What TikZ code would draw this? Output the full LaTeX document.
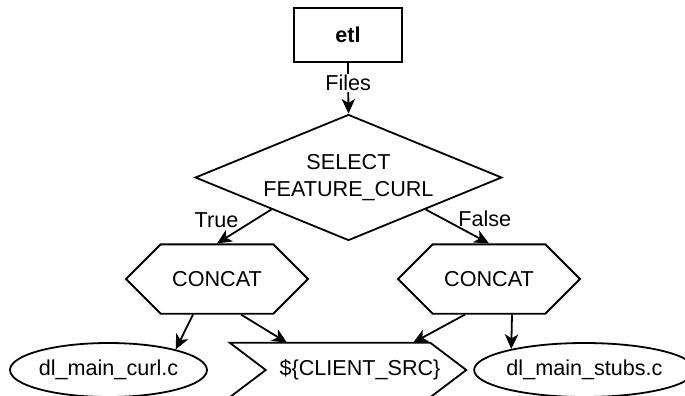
\documentclass[tikz,border=0pt]{standalone}
\usepackage{fontspec}
\setmainfont{Liberation Sans}
\usetikzlibrary{arrows.meta,calc,positioning,shapes.geometric,shapes.misc}

\begin{document}
\begin{tikzpicture}[x=0.75pt, y=-0.75pt, font=\fontsize{16.2}{20.2}\selectfont,
  unit/.style={rectangle, draw, line width=1.35pt, minimum width=81pt, minimum height=40.5pt, inner sep=0pt, font=\fontsize{16.2}{20.2}\selectfont\bfseries},
  choice/.style={diamond, draw, line width=1.35pt, shape aspect=2.43, minimum width=230pt, minimum height=94.5pt, inner sep=0pt, align=center},
  concatbox/.style={chamfered rectangle, chamfered rectangle xsep=27.75pt, chamfered rectangle ysep=20.25pt, draw, line width=1.35pt, minimum width=136.5pt, minimum height=40.5pt, inner sep=0pt},
  srcfile/.style={ellipse, draw, line width=1.35pt, minimum width=144.75pt, minimum height=40.5pt, inner sep=0pt},
  varbox/.style={rectangle, minimum width=177pt, minimum height=40.5pt, inner sep=0pt},
  flow/.style={-{Stealth[length=11pt, width=10pt, inset=3pt]}, line width=1.35pt},
  tag/.style={fill=white, inner sep=1pt},
  branch/.style={inner sep=0pt}]

\useasboundingbox (0,0) rectangle (685,396);

%Nodes
\node[unit]      (etl)   at (348,35)      {etl};
\node[choice]    (sel)   at (348.5,177.5) {SELECT\\FEATURE\_CURL};
\node[concatbox] (ccL)   at (217,279)     {CONCAT};
\node[concatbox] (ccR)   at (489,279)     {CONCAT};
\node[srcfile]   (curl)  at (108.5,370)   {dl\_main\_curl.c};
\node[varbox]    (src)   at (348,370)     {\hspace*{18pt}\$\{CLIENT\_SRC\}};
\node[srcfile]   (stubs) at (584.5,370)   {dl\_main\_stubs.c};
\draw[line width=1.35pt] (src.north west) -- ([xshift=-27pt]src.north east) -- (src.east)
  -- ([xshift=-27pt]src.south east) -- (src.south west) -- ([xshift=27pt]src.west) -- cycle;

%Lines
\draw[flow] (etl.south) -- node[tag, pos=0.4] {Files} (sel.north);

\draw[flow] (sel.south west) -- node[branch, pos=0.31, left=11.5pt] {True} (ccL.north);
\draw[flow] (sel.south east) -- node[branch, pos=0.26, right=11.5pt] {False} (ccR.north);

\draw[flow] ($(ccL.south)+(-24,0)$) -- (curl.17);
\draw[flow] ($(ccL.south)+(24,0)$) -- ($(src.north)+(-61,0)$);

\draw[flow] ($(ccR.south)+(-24,0)$) -- ($(src.north)+(65,0)$);
\draw[flow] ($(ccR.south)+(23,0)$) -- (stubs.164);

\end{tikzpicture}
\end{document}
